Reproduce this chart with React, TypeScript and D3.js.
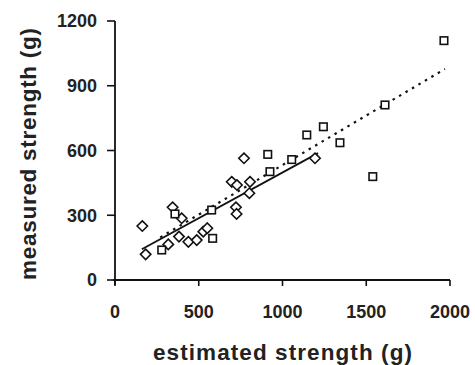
import React from "react";
import * as d3 from "d3";

const xTicks = [0, 500, 1000, 1500, 2000];
const yTicks = [0, 300, 600, 900, 1200];

// diamond series: [estimated, measured]
const diamondEst = [163, 183, 318, 344, 398, 382, 438, 488, 527, 551, 697, 728, 806, 722, 726, 802, 770, 1194];
const diamondMeas = [250, 119, 165, 337, 286, 201, 177, 185, 224, 240, 455, 440, 455, 337, 306, 402, 564, 564];

// square series
const squareEst = [279, 358, 583, 577, 912, 925, 1055, 1145, 1244, 1343, 1539, 1612, 1964];
const squareMeas = [139, 306, 193, 324, 582, 502, 558, 672, 710, 636, 479, 811, 1109];

// regression lines: [x0, x1], intercept, slope
const solidRange = [160, 1212];
const solidFit = [75, 0.423];
const dottedRange = [270, 1970];
const dottedFit = [73.6, 0.459];

export default function App() {
  const W = 475, H = 365;
  const x = d3.scaleLinear().domain([0, 2000]).range([115, 450]);
  const y = d3.scaleLinear().domain([0, 1200]).range([280, 21]);

  const solidPath = d3.line<number>()
    .x((v) => x(v))
    .y((v) => y(solidFit[0] + solidFit[1] * v))(solidRange) as string;
  const dottedPath = d3.line<number>()
    .x((v) => x(v))
    .y((v) => y(dottedFit[0] + dottedFit[1] * v))(dottedRange) as string;

  const font = "'Liberation Sans', Arial, sans-serif";
  const r = 5.2;
  const s = 7.5;

  return (
    <svg width={W} height={H} style={{ position: "absolute", left: 0, top: 0, background: "#fff" }}>
      {/* axes */}
      <line x1={x(0)} x2={x(0)} y1={y(1200)} y2={y(0) + 5} stroke="#111" strokeWidth={1.8} />
      <line x1={x(0) - 2} x2={x(2000)} y1={y(0)} y2={y(0)} stroke="#111" strokeWidth={1.8} />
      {yTicks.map((t) => (
        <g key={"y" + t}>
          <line x1={x(0) - 8} x2={x(0)} y1={y(t)} y2={y(t)} stroke="#111" strokeWidth={1.6} />
          <text x={97} y={y(t)} dy="0.36em" textAnchor="end" fontFamily={font} fontWeight="bold" fontSize={18} fill="#222">
            {t}
          </text>
        </g>
      ))}
      {xTicks.map((t) => (
        <g key={"x" + t}>
          <line x1={x(t)} x2={x(t)} y1={y(0)} y2={y(0) + 6} stroke="#111" strokeWidth={1.6} />
          <text x={x(t)} y={318} textAnchor="middle" fontFamily={font} fontWeight="bold" fontSize={18} fill="#222">
            {t}
          </text>
        </g>
      ))}
      <text
        x={282.5}
        y={360}
        textAnchor="middle"
        fontFamily={font}
        fontWeight="bold"
        fontSize={22.5}
        fill="#222"
        textLength={259}
        lengthAdjust="spacing"
      >
        estimated strength (g)
      </text>
      <text
        transform={`translate(36,154) rotate(-90)`}
        textAnchor="middle"
        fontFamily={font}
        fontWeight="bold"
        fontSize={22.5}
        fill="#222"
        textLength={252}
        lengthAdjust="spacing"
      >
        measured strength (g)
      </text>

      {/* regression lines */}
      <path d={dottedPath} fill="none" stroke="#111" strokeWidth={2.2} strokeDasharray="2.5,5" />
      <path d={solidPath} fill="none" stroke="#111" strokeWidth={1.8} />

      {/* markers */}
      {diamondEst.map((e, i) => {
        const cx = x(e), cy = y(diamondMeas[i]);
        return (
          <path
            key={"d" + i}
            d={`M${cx},${cy - r}L${cx + r},${cy}L${cx},${cy + r}L${cx - r},${cy}Z`}
            fill="#fff"
            stroke="#111"
            strokeWidth={1.6}
          />
        );
      })}
      {squareEst.map((e, i) => {
        const cx = x(e), cy = y(squareMeas[i]);
        return (
          <rect
            key={"s" + i}
            x={cx - s / 2}
            y={cy - s / 2}
            width={s}
            height={s}
            fill="#fff"
            stroke="#111"
            strokeWidth={1.6}
          />
        );
      })}
    </svg>
  );
}
